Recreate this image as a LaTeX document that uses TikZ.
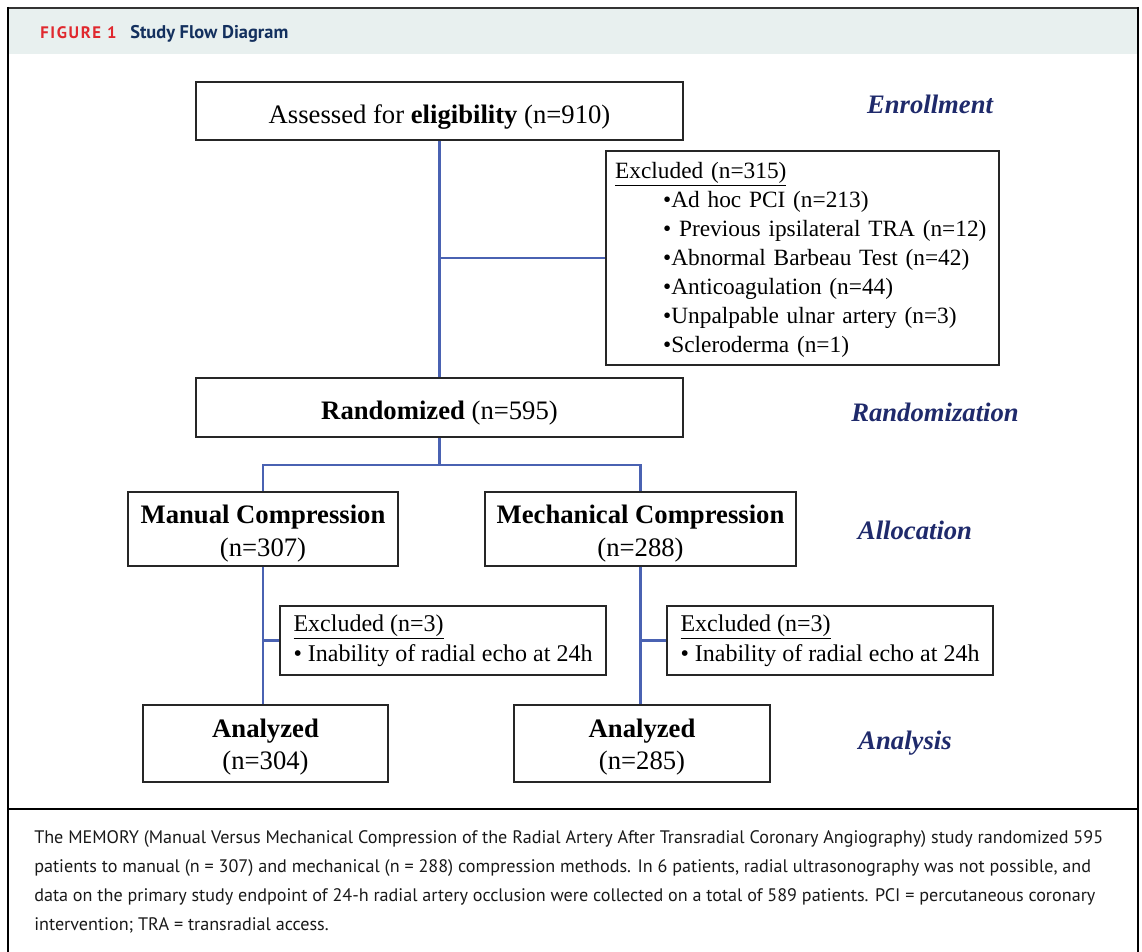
\documentclass[tikz,border=0pt]{standalone}
\usepackage{fontspec}
\setmainfont{Liberation Serif}
\newfontfamily\capfont{PT Sans}
\newfontfamily\figfont[LetterSpace=10]{PT Sans}
\definecolor{hdr}{HTML}{E8F0EF}
\definecolor{conncol}{HTML}{4A62B2}
\definecolor{navy}{HTML}{1F2A6B}
\definecolor{jaccred}{HTML}{E0282E}
\definecolor{jaccnavy}{HTML}{13305E}
\begin{document}
\begin{tikzpicture}[x=0.75pt,y=-0.75pt,
  box/.style={draw=black!85, line width=1.1pt, fill=white, inner sep=0pt, align=center},
  bigtxt/.style={font=\fontsize{20}{24.75}\selectfont},
  exbox/.style={draw=black!85, line width=1.1pt, fill=white, align=left, inner xsep=7pt, inner ysep=0pt, anchor=center},
  conn/.style={draw=conncol, line width=2.2pt},
  phase/.style={font=\fontsize{20}{24}\selectfont\bfseries\itshape, text=navy},
  capline/.style={anchor=base west, inner sep=0pt, font=\capfont\fontsize{13.6}{16}\selectfont, text=black!90}]
\useasboundingbox (0,0) rectangle (1142,952);
% frame
\fill[hdr] (9,9) rectangle (1137,54);
\draw[line width=1.4pt, black!80] (7,8) -- (1139,8);
\draw[line width=2.2pt, black] (8,7) -- (8,952);
\draw[line width=2.2pt, black] (1138,7) -- (1138,952);
\draw[line width=1.5pt, black] (8,809) -- (1138,809);
% header
\node[anchor=base west, inner sep=0pt, font=\figfont\bfseries\fontsize{12.5}{14}\selectfont, text=jaccred] (fig) at (40,39) {FIGURE 1};
\node[anchor=base west, inner sep=0pt, font=\capfont\bfseries\fontsize{13.8}{16}\selectfont, text=jaccnavy] (title) at (130,39) {Study Flow Diagram};
% boxes
\node[box, bigtxt, minimum width=365.25pt, minimum height=43.5pt] (assess) at (439.5,111) {\rule{0pt}{23pt}Assessed for \textbf{eligibility} (n=910)};
\node[box, bigtxt, minimum width=365.25pt, minimum height=44.25pt] (random) at (439.5,407.5) {\rule{0pt}{23pt}\textbf{Randomized} (n=595)};
\node[exbox, font=\fontsize{17.5}{21.75}\selectfont, text width=281pt, minimum height=160.5pt] (excl) at (802.5,258) {\rule{0pt}{15pt}\underline{Excluded (n=315)}\\
\hspace*{36pt}\textbullet Ad hoc PCI (n=213)\\
\hspace*{36pt}\textbullet\ Previous ipsilateral TRA (n=12)\\
\hspace*{36pt}\textbullet Abnormal Barbeau Test (n=42)\\
\hspace*{36pt}\textbullet Anticoagulation (n=44)\\
\hspace*{36pt}\textbullet Unpalpable ulnar artery (n=3)\\
\hspace*{36pt}\textbullet Scleroderma (n=1)};
\node[box, bigtxt, minimum width=202.5pt, minimum height=55.5pt] (manual) at (263,529) {\rule{0pt}{21.5pt}\textbf{Manual Compression}\\(n=307)};
\node[box, bigtxt, minimum width=233.25pt, minimum height=55.5pt] (mech) at (640.5,529) {\rule{0pt}{21.5pt}\textbf{Mechanical Compression}\\(n=288)};
\node[exbox, font=\fontsize{18}{22.5}\selectfont, minimum width=244.5pt, minimum height=51.75pt] (exL) at (443,640.5) {\underline{Excluded (n=3)}\\\textbullet\ Inability of radial echo at 24h};
\node[exbox, font=\fontsize{18}{22.5}\selectfont, minimum width=244.5pt, minimum height=51.75pt] (exR) at (830,640.5) {\underline{Excluded (n=3)}\\\textbullet\ Inability of radial echo at 24h};
\node[box, font=\fontsize{20}{24}\selectfont, minimum width=183.75pt, minimum height=57.75pt] (anL) at (265.5,743.5) {\rule{0pt}{19.5pt}\textbf{Analyzed}\\(n=304)};
\node[box, font=\fontsize{20}{24}\selectfont, minimum width=192pt, minimum height=57.75pt] (anR) at (642,743.5) {\rule{0pt}{19.5pt}\textbf{Analyzed}\\(n=285)};
% phase labels
\node[phase] (lenr) at (930,104) {Enrollment};
\node[phase] (lran) at (935,412) {Randomization};
\node[phase] (lall) at (915,530) {Allocation};
\node[phase] (lana) at (905,743) {Analysis};
% connectors
\coordinate (j1) at (439.5,258);
\coordinate (j2) at (439.5,465);
\draw[conn] (assess.south) -- (random.north);
\draw[conn] (j1) -- (excl.west);
\draw[conn] (random.south) -- (j2);
\draw[conn] (manual.north) |- (j2) -| (mech.north);
\draw[conn] (manual.south) -- (manual.south |- anL.north);
\draw[conn] (manual.south |- exL.west) -- (exL.west);
\draw[conn] (mech.south) -- (mech.south |- anR.north);
\draw[conn] (mech.south |- exR.west) -- (exR.west);
% caption
\node[capline] (c1) at (34,843) {The MEMORY (Manual Versus Mechanical Compression of the Radial Artery After Transradial Coronary Angiography) study randomized 595};
\node[capline] (c2) at (34,872) {patients to manual (n = 307) and mechanical (n = 288) compression methods. In 6 patients, radial ultrasonography was not possible, and};
\node[capline] (c3) at (34,901) {data on the primary study endpoint of 24-h radial artery occlusion were collected on a total of 589 patients. PCI = percutaneous coronary};
\node[capline] (c4) at (34,930) {intervention; TRA = transradial access.};
\end{tikzpicture}
\end{document}
